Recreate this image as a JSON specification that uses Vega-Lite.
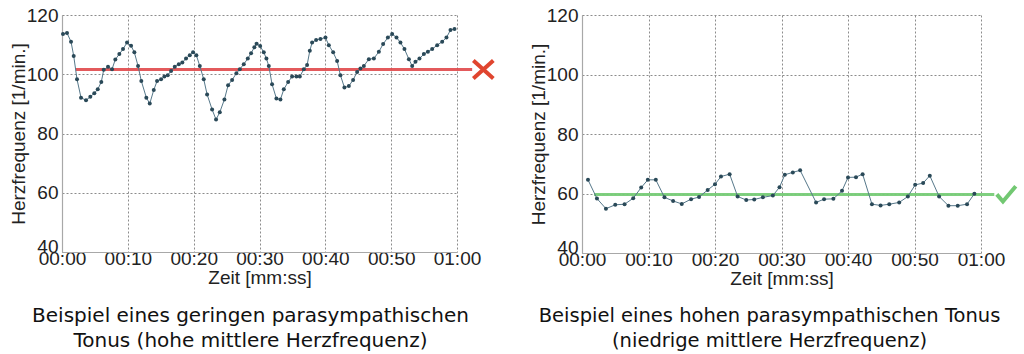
{
  "$schema": "https://vega.github.io/schema/vega-lite/v6.json",
  "background": "white",
  "padding": {"left": 9, "top": 6, "right": 5, "bottom": 0},
  "spacing": 27,
  "datasets": {
    "left": [
      {"t":0.15,"hr":113.6},{"t":0.76,"hr":113.9},{"t":1.37,"hr":111.0},{"t":1.78,"hr":106.2},{"t":2.28,"hr":98.3},
      {"t":2.89,"hr":92.1},{"t":3.65,"hr":91.2},{"t":4.30,"hr":92.4},{"t":4.91,"hr":93.6},{"t":5.43,"hr":94.9},
      {"t":5.97,"hr":97.4},{"t":6.34,"hr":101.5},{"t":6.99,"hr":102.5},{"t":7.60,"hr":101.7},{"t":8.10,"hr":105.0},
      {"t":8.71,"hr":106.8},{"t":9.27,"hr":108.5},{"t":9.88,"hr":110.7},{"t":10.49,"hr":109.6},{"t":10.99,"hr":107.4},
      {"t":11.55,"hr":102.8},{"t":12.05,"hr":97.7},{"t":12.81,"hr":92.1},{"t":13.33,"hr":90.1},{"t":13.94,"hr":94.7},
      {"t":14.44,"hr":97.7},{"t":15.05,"hr":98.3},{"t":15.55,"hr":99.2},{"t":16.06,"hr":99.7},{"t":16.57,"hr":101.1},
      {"t":17.13,"hr":102.5},{"t":17.74,"hr":103.4},{"t":18.28,"hr":104.0},{"t":18.84,"hr":105.3},{"t":19.41,"hr":106.4},
      {"t":19.91,"hr":107.4},{"t":20.41,"hr":106.4},{"t":20.93,"hr":102.8},{"t":21.53,"hr":98.3},{"t":22.04,"hr":93.2},
      {"t":22.80,"hr":88.1},{"t":23.40,"hr":84.7},{"t":23.97,"hr":87.2},{"t":24.67,"hr":91.5},{"t":25.23,"hr":96.3},
      {"t":25.84,"hr":98.1},{"t":26.49,"hr":100.3},{"t":27.01,"hr":101.7},{"t":27.61,"hr":103.4},{"t":28.22,"hr":105.3},
      {"t":28.72,"hr":107.1},{"t":29.22,"hr":109.1},{"t":29.56,"hr":110.3},{"t":30.10,"hr":109.5},{"t":30.65,"hr":107.4},
      {"t":31.05,"hr":105.3},{"t":31.41,"hr":102.8},{"t":31.91,"hr":96.6},{"t":32.57,"hr":91.8},{"t":33.18,"hr":91.5},
      {"t":33.69,"hr":94.9},{"t":34.35,"hr":97.4},{"t":34.95,"hr":99.2},{"t":35.61,"hr":99.2},{"t":36.12,"hr":99.2},
      {"t":36.73,"hr":101.7},{"t":37.23,"hr":103.1},{"t":37.64,"hr":107.9},{"t":37.99,"hr":110.7},{"t":38.60,"hr":111.6},
      {"t":39.26,"hr":111.9},{"t":40.02,"hr":112.4},{"t":40.53,"hr":109.8},{"t":41.19,"hr":107.4},{"t":41.79,"hr":104.5},
      {"t":42.29,"hr":99.7},{"t":42.90,"hr":95.5},{"t":43.57,"hr":96.0},{"t":44.22,"hr":98.1},{"t":44.83,"hr":100.8},
      {"t":45.33,"hr":101.9},{"t":45.85,"hr":102.8},{"t":46.61,"hr":105.1},{"t":47.37,"hr":105.3},{"t":48.13,"hr":107.6},
      {"t":48.78,"hr":110.2},{"t":49.50,"hr":112.4},{"t":50.15,"hr":113.6},{"t":50.81,"hr":112.4},{"t":51.41,"hr":110.7},
      {"t":52.02,"hr":108.5},{"t":52.69,"hr":105.1},{"t":53.19,"hr":102.8},{"t":53.69,"hr":104.2},{"t":54.30,"hr":105.3},
      {"t":54.97,"hr":106.8},{"t":55.58,"hr":107.6},{"t":56.23,"hr":108.5},{"t":56.99,"hr":109.8},{"t":57.75,"hr":111.0},
      {"t":58.40,"hr":112.4},{"t":59.01,"hr":114.9},{"t":59.62,"hr":115.3}
    ],
    "right": [
      {"t":0.9,"hr":64.6},{"t":2.25,"hr":58.3},{"t":3.6,"hr":54.9},{"t":5.0,"hr":56.2},{"t":6.4,"hr":56.4},
      {"t":7.7,"hr":58.4},{"t":8.9,"hr":62.0},{"t":9.9,"hr":64.6},{"t":11.1,"hr":64.6},{"t":12.4,"hr":58.7},
      {"t":13.7,"hr":57.5},{"t":15.0,"hr":56.5},{"t":16.4,"hr":58.1},{"t":17.6,"hr":58.8},{"t":18.9,"hr":61.2},
      {"t":20.0,"hr":63.1},{"t":20.9,"hr":65.7},{"t":22.2,"hr":66.5},{"t":23.4,"hr":59.0},{"t":24.7,"hr":57.8},
      {"t":25.9,"hr":58.0},{"t":27.2,"hr":58.7},{"t":28.7,"hr":59.3},{"t":29.7,"hr":62.1},{"t":30.5,"hr":66.3},
      {"t":31.7,"hr":67.1},{"t":32.8,"hr":67.8},{"t":35.2,"hr":57.0},{"t":36.4,"hr":58.1},{"t":37.8,"hr":58.2},
      {"t":39.1,"hr":60.9},{"t":40.0,"hr":65.4},{"t":41.2,"hr":65.5},{"t":42.2,"hr":66.5},{"t":43.6,"hr":56.4},
      {"t":44.9,"hr":56.0},{"t":46.2,"hr":56.4},{"t":47.7,"hr":57.0},{"t":49.0,"hr":59.0},{"t":50.1,"hr":62.9},
      {"t":51.3,"hr":63.5},{"t":52.3,"hr":66.0},{"t":53.7,"hr":59.0},{"t":55.1,"hr":55.9},{"t":56.5,"hr":55.9},
      {"t":57.9,"hr":56.4},{"t":59.0,"hr":59.9}
    ],
    "leftMean": [{"t0":2.1,"t1":62.3,"m":101.6,"tm":64.0}],
    "rightMean": [{"t0":1.8,"t1":62.0,"m":59.7,"tm":63.8}]
  },
  "config": {
    "view": {"stroke": null},
    "axis": {
      "grid": true,
      "gridDash": [2, 2],
      "gridColor": "#8c8c8c",
      "gridWidth": 1,
      "ticks": false,
      "domainColor": "#a8a8a8",
      "domainWidth": 1.2,
      "labelFont": "Liberation Sans",
      "labelFontSize": 19,
      "labelColor": "#222222",
      "titleFont": "Liberation Sans",
      "titleFontSize": 19,
      "titleFontWeight": "normal",
      "titleColor": "#222222"
    },
    "title": {
      "font": "DejaVu Sans",
      "fontSize": 20,
      "fontWeight": "normal",
      "color": "#111111",
      "orient": "bottom",
      "anchor": "middle",
      "lineHeight": 25,
      "offset": 19,
      "dx": -9
    }
  },
  "hconcat": [
    {
      "width": 395,
      "height": 237,
      "title": {"text": ["Beispiel eines geringen parasympathischen", "Tonus (hohe mittlere Herzfrequenz)"]},
      "layer": [
        {
          "data": {"name": "leftMean"},
          "mark": {"type": "rule", "color": "#e0484a", "strokeWidth": 3, "opacity": 0.9},
          "encoding": {
            "x": {"field": "t0", "type": "quantitative", "scale": {"domain": [0, 60], "nice": false, "zero": false},
              "axis": {"values": [0,10,20,30,40,50,60], "labelFlush": false, "labelOverlap": false, "labelPadding": -3, "titlePadding": 0,
                "labelExpr": "(datum.value < 60 ? '00:' : '01:') + (datum.value % 60 < 10 ? '0' : '') + (datum.value % 60)",
                "title": "Zeit [mm:ss]"}},
            "x2": {"field": "t1"},
            "y": {"field": "m", "type": "quantitative", "scale": {"domain": [40, 120], "nice": false, "zero": false},
              "axis": {"values": [40,60,80,100,120], "labelFlush": false, "labelOverlap": false, "labelPadding": 4, "titlePadding": -2,
                "labelBaseline": {"condition": {"test": "datum.value == 40", "value": "alphabetic"}, "value": "middle"},
                "title": "Herzfrequenz [1/min.]"}}
          }
        },
        {
          "data": {"name": "left"},
          "mark": {"type": "line", "color": "#56788a", "strokeWidth": 1},
          "encoding": {
            "x": {"field": "t", "type": "quantitative"},
            "y": {"field": "hr", "type": "quantitative"}
          }
        },
        {
          "data": {"name": "left"},
          "mark": {"type": "point", "filled": true, "size": 16, "color": "#2a4958", "opacity": 1},
          "encoding": {
            "x": {"field": "t", "type": "quantitative"},
            "y": {"field": "hr", "type": "quantitative"}
          }
        },
        {
          "data": {"name": "leftMean"},
          "mark": {"type": "point", "shape": "M -1 -0.9 L 1 0.9 M -1 0.9 L 1 -0.9", "filled": false, "stroke": "#e0452f", "strokeWidth": 4, "size": 400, "opacity": 1},
          "encoding": {
            "x": {"field": "tm", "type": "quantitative"},
            "y": {"field": "m", "type": "quantitative"}
          }
        }
      ]
    },
    {
      "width": 399,
      "height": 238,
      "title": {"text": ["Beispiel eines hohen parasympathischen Tonus", "(niedrige mittlere Herzfrequenz)"], "fontSize": 19.5, "dx": -12},
      "layer": [
        {
          "data": {"name": "rightMean"},
          "mark": {"type": "rule", "color": "#78cc78", "strokeWidth": 3, "opacity": 0.95},
          "encoding": {
            "x": {"field": "t0", "type": "quantitative", "scale": {"domain": [0, 60], "nice": false, "zero": false},
              "axis": {"values": [0,10,20,30,40,50,60], "labelFlush": false, "labelOverlap": false, "labelPadding": -3, "titlePadding": 0,
                "labelExpr": "(datum.value < 60 ? '00:' : '01:') + (datum.value % 60 < 10 ? '0' : '') + (datum.value % 60)",
                "title": "Zeit [mm:ss]"}},
            "x2": {"field": "t1"},
            "y": {"field": "m", "type": "quantitative", "scale": {"domain": [40, 120], "nice": false, "zero": false},
              "axis": {"values": [40,60,80,100,120], "labelFlush": false, "labelOverlap": false, "labelPadding": 4, "titlePadding": -2,
                "labelBaseline": {"condition": {"test": "datum.value == 40", "value": "alphabetic"}, "value": "middle"},
                "title": "Herzfrequenz [1/min.]"}}
          }
        },
        {
          "data": {"name": "right"},
          "mark": {"type": "line", "color": "#56788a", "strokeWidth": 1},
          "encoding": {
            "x": {"field": "t", "type": "quantitative"},
            "y": {"field": "hr", "type": "quantitative"}
          }
        },
        {
          "data": {"name": "right"},
          "mark": {"type": "point", "filled": true, "size": 16, "color": "#2a4958", "opacity": 1},
          "encoding": {
            "x": {"field": "t", "type": "quantitative"},
            "y": {"field": "hr", "type": "quantitative"}
          }
        },
        {
          "data": {"name": "rightMean"},
          "mark": {"type": "point", "shape": "M -1 0 L -0.35 0.75 L 1 -0.85", "filled": false, "stroke": "#72c872", "strokeWidth": 4, "size": 360, "opacity": 1},
          "encoding": {
            "x": {"field": "tm", "type": "quantitative"},
            "y": {"field": "m", "type": "quantitative"}
          }
        }
      ]
    }
  ]
}
